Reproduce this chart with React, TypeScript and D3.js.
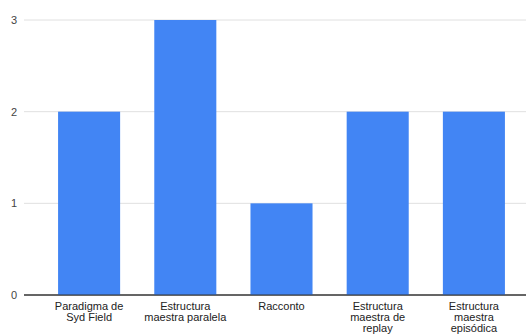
import React from "react";
import * as d3 from "d3";

const categories: string[][] = [
  ["Paradigma de", "Syd Field"],
  ["Estructura", "maestra paralela"],
  ["Racconto"],
  ["Estructura", "maestra de", "replay"],
  ["Estructura", "maestra", "episódica"],
];
const values: number[] = [2, 3, 1, 2, 2];
const yTicks: number[] = [0, 1, 2, 3];

const W = 526;
const H = 334;

export default function App() {
  const keys = categories.map((_, i) => String(i));
  const x = d3.scaleBand<string>().domain(keys).range([41, 522]).paddingInner(0.355).paddingOuter(0.1775);
  const y = d3.scaleLinear().domain([0, 3]).range([295, 20]);
  const font = "Arial, 'Liberation Sans', sans-serif";
  return (
    <svg width={W} height={H} style={{ position: "absolute", left: 0, top: 0, background: "#fff" }}>
      {yTicks.map((t) => (
        <g key={t}>
          <line x1={24} x2={526} y1={y(t)} y2={y(t)} stroke={t === 0 ? "#333" : "#e0e0e0"} strokeWidth={1} />
          <text x={17} y={y(t)} dy="0.35em" textAnchor="end" fontSize={11} fill="#444" fontFamily={font}>
            {t}
          </text>
        </g>
      ))}
      {values.map((v, i) => (
        <rect key={i} x={x(String(i))} y={y(v)} width={x.bandwidth()} height={y(0) - y(v)} fill="#4285f4" />
      ))}
      <line x1={24} x2={526} y1={y(0)} y2={y(0)} stroke="#333" strokeWidth={1} />
      {categories.map((lines, i) => (
        <text key={i} textAnchor="middle" fontSize={11} fill="#222" fontFamily={font}>
          {lines.map((l, j) => (
            <tspan key={j} x={(x(String(i)) as number) + x.bandwidth() / 2} y={310 + j * 11}>
              {l}
            </tspan>
          ))}
        </text>
      ))}
    </svg>
  );
}
